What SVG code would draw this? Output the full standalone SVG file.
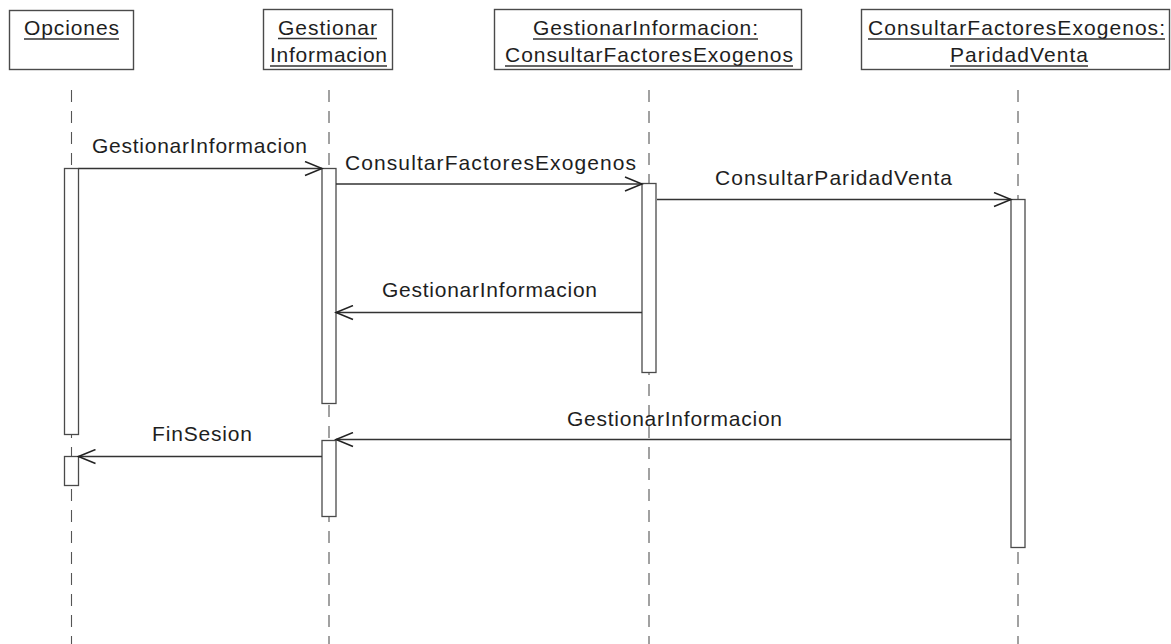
<svg xmlns="http://www.w3.org/2000/svg" width="1171" height="644" viewBox="0 0 1171 644">
  <style>
    text { font-family: "Liberation Sans", Arial, sans-serif; font-size: 21px; fill: #1e1e1e; }
    .head { fill: #ffffff; stroke: #4a4a4a; stroke-width: 1.4; }
    .ul { stroke: #333; stroke-width: 1.3; }
    .life { stroke: #555; stroke-width: 1.1; stroke-dasharray: 12 9; fill: none; }
    .act { fill: #ffffff; stroke: #4a4a4a; stroke-width: 1.3; }
    .msg { stroke: #333; stroke-width: 1.3; fill: none; }
    .head-arrow { stroke: #222; stroke-width: 1.5; fill: none; }
  </style>
  <defs>
    <marker id="open" viewBox="0 0 20 16" refX="18" refY="8" markerWidth="20" markerHeight="16" markerUnits="userSpaceOnUse" orient="auto">
      <path d="M1 1 L18 8 L1 15" class="head-arrow"/>
    </marker>
  </defs>
  <rect width="1171" height="644" fill="#ffffff"/>

  <!-- lifelines -->
  <g id="lifelines">
    <line class="life" x1="71.5" y1="90" x2="71.5" y2="644"/>
    <line class="life" x1="329" y1="90" x2="329" y2="644"/>
    <line class="life" x1="649" y1="90" x2="649" y2="644"/>
    <line class="life" x1="1018" y1="90" x2="1018" y2="644"/>
  </g>

  <!-- participant: Opciones -->
  <g id="opciones">
    <rect class="head" x="9.5" y="10.5" width="124" height="59"/>
    <text x="24" y="35" textLength="95" lengthAdjust="spacing">Opciones</text>
    <line class="ul" x1="24" y1="39" x2="119" y2="39"/>
    <rect class="act" x="64.5" y="168.5" width="14" height="266"/>
    <rect class="act" x="64.5" y="456.5" width="14" height="29"/>
  </g>

  <!-- participant: Gestionar Informacion -->
  <g id="gestionar-informacion">
    <rect class="head" x="263.5" y="9.5" width="129" height="60"/>
    <text x="278" y="35" textLength="99" lengthAdjust="spacing">Gestionar</text>
    <line class="ul" x1="278" y1="38.5" x2="377" y2="38.5"/>
    <text x="270" y="62" textLength="117" lengthAdjust="spacing">Informacion</text>
    <line class="ul" x1="270" y1="66" x2="387" y2="66"/>
    <rect class="act" x="322" y="168.5" width="14" height="235"/>
    <rect class="act" x="322" y="440.5" width="14" height="76"/>
  </g>

  <!-- participant: GestionarInformacion:ConsultarFactoresExogenos -->
  <g id="consultar-factores">
    <rect class="head" x="494.5" y="9.5" width="307" height="60"/>
    <text x="533" y="35" textLength="225" lengthAdjust="spacing">GestionarInformacion:</text>
    <line class="ul" x1="533" y1="39" x2="758" y2="39"/>
    <text x="505" y="62" textLength="288" lengthAdjust="spacing">ConsultarFactoresExogenos</text>
    <line class="ul" x1="505" y1="66" x2="793" y2="66"/>
    <rect class="act" x="642" y="183.5" width="14" height="189"/>
  </g>

  <!-- participant: ConsultarFactoresExogenos:ParidadVenta -->
  <g id="paridad-venta">
    <rect class="head" x="861.5" y="9.5" width="308" height="60"/>
    <text x="868" y="35" textLength="297" lengthAdjust="spacing">ConsultarFactoresExogenos:</text>
    <line class="ul" x1="868" y1="39" x2="1165" y2="39"/>
    <text x="950" y="62" textLength="138" lengthAdjust="spacing">ParidadVenta</text>
    <line class="ul" x1="950" y1="66" x2="1088" y2="66"/>
    <rect class="act" x="1011" y="199.5" width="14" height="348"/>
  </g>

  <!-- messages -->
  <g id="connectors">
    <line class="msg" x1="78.5" y1="168.5" x2="322" y2="168.5" marker-end="url(#open)"/>
    <text x="92" y="153" textLength="215" lengthAdjust="spacing">GestionarInformacion</text>

    <line class="msg" x1="336" y1="184" x2="642" y2="184" marker-end="url(#open)"/>
    <text x="345" y="170" textLength="291" lengthAdjust="spacing">ConsultarFactoresExogenos</text>

    <line class="msg" x1="657" y1="199.5" x2="1011" y2="199.5" marker-end="url(#open)"/>
    <text x="715" y="185" textLength="237" lengthAdjust="spacing">ConsultarParidadVenta</text>

    <line class="msg" x1="642" y1="312.5" x2="336" y2="312.5" marker-end="url(#open)"/>
    <text x="382" y="297" textLength="215" lengthAdjust="spacing">GestionarInformacion</text>

    <line class="msg" x1="1011" y1="439.5" x2="336" y2="439.5" marker-end="url(#open)"/>
    <text x="567" y="426" textLength="215" lengthAdjust="spacing">GestionarInformacion</text>

    <line class="msg" x1="322" y1="456.5" x2="78.5" y2="456.5" marker-end="url(#open)"/>
    <text x="152" y="441" textLength="100" lengthAdjust="spacing">FinSesion</text>
  </g>
</svg>
